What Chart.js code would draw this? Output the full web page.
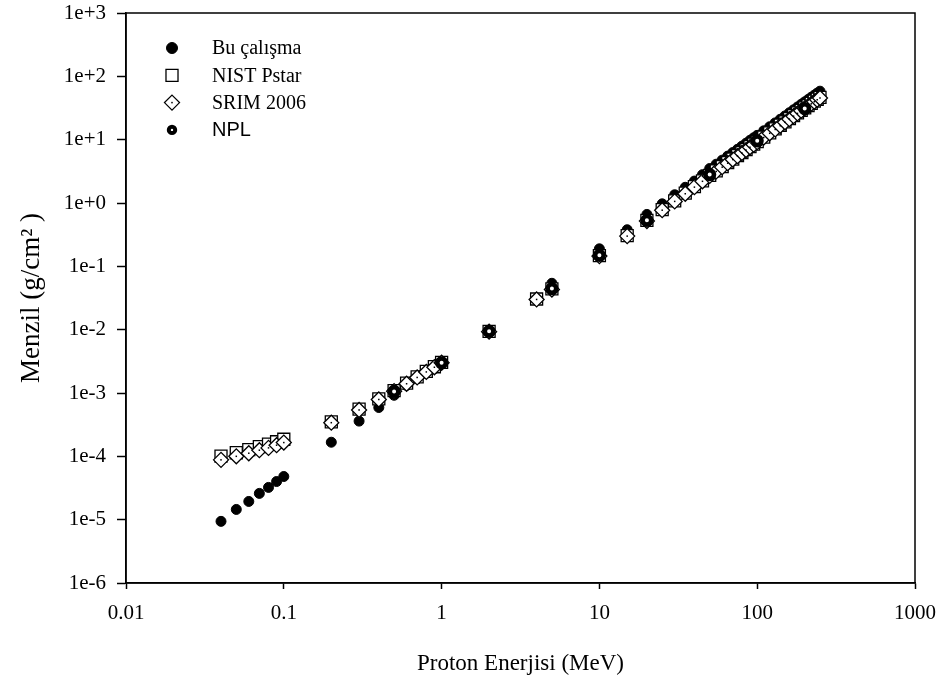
<!DOCTYPE html>
<html>
<head>
<meta charset="utf-8">
<title>Menzil - Proton Enerjisi</title>
<script src="https://cdn.jsdelivr.net/npm/chart.js@4.4.1/dist/chart.umd.min.js"></script>
<style>
  html, body { margin: 0; padding: 0; background: #fff; }
  #chart { display: block; }
</style>
</head>
<body>
<canvas id="chart" width="943" height="683"></canvas>
<script>
// range vs. proton energy, log-log

// energies (MeV)
const eLow = [0.04, 0.05, 0.06, 0.07, 0.08, 0.09, 0.1];
const eMid = [0.2, 0.3, 0.4, 0.5, 0.6, 0.7, 0.8, 0.9, 1];
const eHigh = [10, 15, 20, 25, 30, 35, 40, 45, 50, 55, 60, 65, 70, 75, 80, 85, 90, 95, 100,
  110, 120, 130, 140, 150, 160, 170, 180, 190, 200, 210, 220, 230, 240, 250];

const buEnergy = [...eLow, ...eMid, 2, 5, ...eHigh];
const tableEnergy = [...eLow, ...eMid, 2, 4, 5, ...eHigh];
const nplEnergy = [0.5, 1, 2, 5, 10, 20, 50, 100, 200];

// ranges (g/cm2)
const buRange = [
  9.4e-6, 1.45e-5, 1.94e-5, 2.6e-5, 3.23e-5, 4.0e-5, 4.8e-5,
  1.67e-4, 3.6e-4, 5.9e-4, 9.2e-4, 1.32e-3, 1.68e-3, 2.05e-3, 2.45e-3, 2.95e-3,
  9.5e-3, 5.4e-2,
  0.189, 0.378, 0.66, 0.97, 1.35, 1.77, 2.22, 2.8, 3.5, 4.1, 4.75, 5.5, 6.25, 7.05, 7.9, 8.8, 9.75, 10.7, 11.7,
  13.8, 16.0, 18.4, 21.0, 23.7, 26.6, 29.6, 32.8, 36.1, 39.5, 43.0, 46.7, 50.4, 54.3, 58.3
];
const nistRange = [
  1.01e-4, 1.14e-4, 1.28e-4, 1.42e-4, 1.56e-4, 1.7e-4, 1.86e-4,
  3.5e-4, 5.55e-4, 8.1e-4, 1.09e-3, 1.43e-3, 1.8e-3, 2.2e-3, 2.6e-3, 3.05e-3,
  9.4e-3, 3.05e-2, 4.4e-2,
  0.148, 0.305, 0.53, 0.785, 1.08, 1.43, 1.81, 2.24, 2.73, 3.21, 3.75, 4.33, 4.94, 5.6, 6.27, 6.98, 7.74, 8.5, 9.32,
  11.0, 12.8, 14.8, 16.9, 19.1, 21.5, 24.0, 26.5, 29.1, 31.8, 34.6, 37.5, 40.5, 43.5, 46.4
];
const srimRange = [
  8.8e-5, 1.0e-4, 1.12e-4, 1.25e-4, 1.36e-4, 1.5e-4, 1.65e-4,
  3.4e-4, 5.4e-4, 7.9e-4, 1.07e-3, 1.40e-3, 1.76e-3, 2.15e-3, 2.55e-3, 3.0e-3,
  9.3e-3, 3.0e-2, 4.3e-2,
  0.145, 0.30, 0.52, 0.77, 1.06, 1.40, 1.78, 2.2, 2.68, 3.15, 3.68, 4.25, 4.85, 5.5, 6.15, 6.85, 7.6, 8.35, 9.15,
  10.8, 12.6, 14.5, 16.6, 18.8, 21.1, 23.5, 26.0, 28.6, 31.2, 33.9, 36.8, 39.7, 42.7, 45.5
];
const nplRange = [1.06e-3, 3.0e-3, 9.4e-3, 4.45e-2, 0.149, 0.533, 2.81, 9.6, 31.0];

// axis ticks
const xTicks = [0.01, 0.1, 1, 10, 100, 1000];
const xTickLabels = ['0.01', '0.1', '1', '10', '100', '1000'];
const yTicks = [1e-6, 1e-5, 1e-4, 1e-3, 1e-2, 1e-1, 1e0, 1e1, 1e2, 1e3];
const yTickLabels = ['1e-6', '1e-5', '1e-4', '1e-3', '1e-2', '1e-1', '1e+0', '1e+1', '1e+2', '1e+3'];

const SERIF = '"Liberation Serif", "Times New Roman", serif';
const SANS = '"Liberation Sans", Arial, sans-serif';

function toPoints(xs, ys) {
  return xs.map((x, i) => ({ x: x, y: ys[i] }));
}

// marker used for each series, also reused by the legend
function drawMarker(ctx, ds, x, y) {
  ctx.save();
  ctx.fillStyle = ds.pointBackgroundColor;
  ctx.strokeStyle = ds.pointBorderColor;
  const r = ds.legendRadius || ds.pointRadius;
  ctx.lineWidth = ds.legendBorder || ds.pointBorderWidth;
  ctx.beginPath();
  if (ds.pointStyle === 'rect') {
    const h = r * Math.SQRT1_2;
    ctx.rect(x - h, y - h, 2 * h, 2 * h);
  } else if (ds.pointStyle === 'rectRot') {
    ctx.moveTo(x, y - r);
    ctx.lineTo(x + r, y);
    ctx.lineTo(x, y + r);
    ctx.lineTo(x - r, y);
    ctx.closePath();
  } else {
    ctx.arc(x, y, r, 0, Math.PI * 2);
  }
  ctx.fill();
  ctx.stroke();
  if (ds.centerDot) {
    ctx.fillStyle = '#000';
    ctx.fillRect(x - 0.75, y - 0.75, 1.5, 1.5);
  }
  ctx.restore();
}

// small dot in the middle of the diamonds
const centerDots = {
  id: 'centerDots',
  afterDatasetDraw(chart, args) {
    const ds = chart.data.datasets[args.index];
    if (!ds.centerDot) return;
    const ctx = chart.ctx;
    ctx.save();
    ctx.fillStyle = '#000';
    args.meta.data.forEach(pt => {
      ctx.fillRect(pt.x - 0.75, pt.y - 0.75, 1.5, 1.5);
    });
    ctx.restore();
  }
};

// closed frame round the plot
const frame = {
  id: 'frame',
  afterDraw(chart) {
    const { ctx, chartArea: a } = chart;
    ctx.save();
    ctx.strokeStyle = '#000';
    ctx.lineWidth = 1.5;
    ctx.strokeRect(a.left, a.top, a.right - a.left, a.bottom - a.top);
    ctx.restore();
  }
};

// legend inside the plot, top left
const insideLegend = {
  id: 'insideLegend',
  afterDraw(chart) {
    const { ctx, chartArea: a } = chart;
    const mx = a.left + 46;
    const tx = a.left + 86;
    let y = a.top + 35;
    ctx.save();
    ctx.textBaseline = 'middle';
    ctx.fillStyle = '#000';
    chart.data.datasets.forEach(ds => {
      drawMarker(ctx, ds, mx, y);
      ctx.font = '20px ' + ds.legendFont;
      ctx.fillText(ds.label, tx, y + 1);
      y += 27.3;
    });
    ctx.restore();
  }
};

const ctx = document.getElementById('chart').getContext('2d');
const chart = new Chart(ctx, {
  type: 'scatter',
  data: {
    datasets: [
      {
        label: 'Bu çalışma',
        data: toPoints(buEnergy, buRange),
        pointStyle: 'circle',
        pointRadius: 5,
        pointBackgroundColor: '#000',
        pointBorderColor: '#000',
        pointBorderWidth: 1,
        legendRadius: 5.5,
        legendFont: SERIF,
        order: 3
      },
      {
        label: 'NIST Pstar',
        data: toPoints(tableEnergy, nistRange),
        pointStyle: 'rect',
        pointRadius: 8.5,
        pointBackgroundColor: '#fff',
        pointBorderColor: '#000',
        pointBorderWidth: 1.3,
        legendFont: SERIF,
        order: 2
      },
      {
        label: 'SRIM 2006',
        data: toPoints(tableEnergy, srimRange),
        pointStyle: 'rectRot',
        pointRadius: 7.5,
        pointBackgroundColor: '#fff',
        pointBorderColor: '#000',
        pointBorderWidth: 1.3,
        centerDot: true,
        legendFont: SERIF,
        order: 1
      },
      {
        label: 'NPL',
        data: toPoints(nplEnergy, nplRange),
        pointStyle: 'circle',
        pointRadius: 4.3,
        pointBackgroundColor: '#fff',
        pointBorderColor: '#000',
        pointBorderWidth: 4.6,
        legendRadius: 3.2,
        legendBorder: 4,
        legendFont: SANS,
        order: 0
      }
    ]
  },
  options: {
    responsive: false,
    animation: false,
    devicePixelRatio: 1,
    layout: {
      padding: { top: 13, right: 28, left: 0, bottom: 0 }
    },
    plugins: {
      legend: { display: false },
      tooltip: { enabled: false }
    },
    elements: {
      point: { hoverRadius: 0 }
    },
    scales: {
      x: {
        type: 'logarithmic',
        min: 0.01,
        max: 1000,
        afterBuildTicks: scale => {
          scale.ticks = xTicks.map(v => ({ value: v }));
        },
        afterFit: scale => {
          scale.height = 100;
          scale.paddingLeft = 0;
          scale.paddingRight = 0;
        },
        border: { color: '#000', width: 1.5 },
        grid: {
          drawOnChartArea: false,
          drawTicks: true,
          tickLength: 6,
          tickWidth: 1.5,
          tickColor: '#000'
        },
        ticks: {
          autoSkip: false,
          maxRotation: 0,
          padding: 12,
          color: '#000',
          font: { family: SERIF, size: 21 },
          callback: (value, index) => xTickLabels[index]
        },
        title: {
          display: true,
          text: 'Proton Enerjisi (MeV)',
          color: '#000',
          font: { family: SERIF, size: 23 },
          padding: { top: 0, bottom: 5 }
        }
      },
      y: {
        type: 'logarithmic',
        min: 1e-6,
        max: 1e3,
        afterBuildTicks: scale => {
          scale.ticks = yTicks.map(v => ({ value: v }));
        },
        afterFit: scale => {
          scale.width = 126;
          scale.paddingTop = 0;
          scale.paddingBottom = 0;
        },
        border: { color: '#000', width: 1.5 },
        grid: {
          drawOnChartArea: false,
          drawTicks: true,
          tickLength: 9,
          tickWidth: 1.5,
          tickColor: '#000'
        },
        ticks: {
          autoSkip: false,
          padding: 11,
          color: '#000',
          font: { family: SERIF, size: 21 },
          callback: (value, index) => yTickLabels[index]
        },
        title: {
          display: true,
          text: 'Menzil (g/cm² )',
          color: '#000',
          font: { family: SERIF, size: 27 },
          padding: { top: 16, bottom: 0 }
        }
      }
    }
  },
  plugins: [centerDots, frame, insideLegend]
});
</script>
</body>
</html>
